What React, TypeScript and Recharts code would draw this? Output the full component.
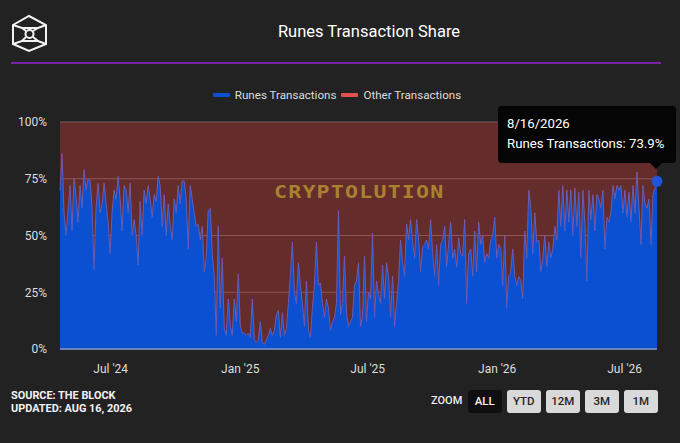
import { AreaChart, Area, XAxis, YAxis, CartesianGrid, Legend, Tooltip } from "recharts";

// share of runes transactions in % left to right
const runes2024a = [70, 86, 60, 50, 60, 72, 52, 75, 67, 56, 72, 62, 79, 70, 75, 74, 62, 35, 62, 73, 60, 64, 73, 64, 56, 42, 60, 70, 66, 76, 66, 52, 72, 70, 60, 73, 50, 57, 50, 37, 65, 50, 70, 64, 72, 66, 58, 68, 65];
const runes2024b = [76, 72, 54, 68, 50, 64, 54, 48, 66, 60, 72, 64, 74, 74, 66, 44, 72, 66, 60, 54, 55, 48, 54, 34, 40, 61, 62, 42, 32, 6, 54, 18, 40, 9, 6, 22, 10, 6, 22, 12, 33, 10, 7, 7, 6, 7, 5, 22, 4, 3];
const runes2025a = [4, 12, 3, 2, 4, 6, 9, 6, 8, 15, 17, 5, 16, 6, 9, 20, 32, 47, 25, 20, 38, 28, 20, 10, 30, 8, 5, 18, 28, 47, 28, 29, 20, 14, 22, 18, 8, 12, 14, 20, 61, 15, 20, 41, 16, 10, 12, 14, 28, 30];
const runes2025b = [38, 10, 14, 41, 12, 25, 22, 51, 14, 30, 24, 20, 37, 22, 38, 32, 14, 32, 10, 20, 30, 48, 38, 32, 55, 48, 57, 47, 40, 57, 48, 34, 45, 46, 48, 44, 57, 42, 32, 46, 28, 46, 48, 54, 36, 46, 56, 40, 44, 36];
const runes2026a = [49, 42, 41, 57, 20, 42, 44, 32, 52, 34, 56, 46, 50, 38, 42, 40, 48, 50, 58, 40, 46, 44, 28, 50, 18, 32, 34, 44, 32, 28, 32, 30, 22, 52, 40, 70, 62, 42, 60, 47, 48, 34, 40, 50, 36, 47, 40, 44, 54, 48];
const runes2026b = [70, 54, 72, 52, 70, 56, 70, 50, 71, 54, 69, 40, 70, 55, 30, 70, 57, 68, 52, 68, 66, 62, 70, 44, 58, 56, 60, 72, 66, 72, 70, 72, 60, 70, 58, 69, 56, 72, 60, 78, 62, 46, 72, 64, 62, 66, 46, 68, 71, 73.9];
const runesValues = [...runes2024a, ...runes2024b, ...runes2025a, ...runes2025b, ...runes2026a, ...runes2026b];

const TOTAL_DAYS = 848; // Apr 20 2024 to Aug 16 2026
const xTickDays = [72, 256, 437, 621, 802];
const xTickLabels = ["Jul '24", "Jan '25", "Jul '25", "Jan '26", "Jul '26"];
const yTicks = [0, 25, 50, 75, 100];
const zoomButtons = ["ALL", "YTD", "12M", "3M", "1M"];
const tooltipDate = "8/16/2026";

const BLUE = "#0b50d0";
const RED = "#ef4444";
const FONT = "Roboto, sans-serif";

const chartData = runesValues.map((v, i) => ({
  day: (i * TOTAL_DAYS) / (runesValues.length - 1),
  runes: v,
  other: 100 - v,
}));

function ChartLegend({ payload }: any) {
  const colors = [BLUE, "#e2504c"];
  return (
    <div style={{ display: "flex", justifyContent: "center", fontFamily: FONT, fontSize: 11.6, color: "#ddd" }}>
      {(payload || []).map((p: any, i: number) => (
        <span key={p.value} style={{ display: "flex", alignItems: "center", marginLeft: i ? 5 : 0 }}>
          <span style={{ width: 17, height: 4, borderRadius: 1, background: colors[i], marginRight: 5 }} />
          {p.value}
        </span>
      ))}
    </div>
  );
}

function ChartTooltip({ payload }: any) {
  const item = payload && payload[0];
  if (!item) return null;
  return (
    <div style={{ position: "relative", width: 178, height: 57, boxSizing: "border-box", padding: "8px 9px", background: "#050505", borderRadius: 4, color: "#fff", fontFamily: FONT, fontSize: 13.2, lineHeight: "20px", whiteSpace: "nowrap" }}>
      <div>{tooltipDate}</div>
      <div>{item.name}: {item.value}%</div>
      <div style={{ position: "absolute", left: 152, top: 57, width: 0, height: 0, borderLeft: "6px solid transparent", borderRight: "6px solid transparent", borderTop: "6px solid #050505" }} />
    </div>
  );
}

function Logo() {
  return (
    <svg width={60} height={60} style={{ position: "absolute", left: 0, top: 3 }} fill="none" stroke="#f2f2f2" strokeWidth={2}>
      <polygon points="29,13 46,22 46,41 29,48 13,41 13,22" />
      <polyline points="13,22 22,25 38,25 46,22" />
      <polyline points="13,41 22,38 38,38 46,41" />
      <line x1={22} y1={25} x2={26} y2={28} />
      <line x1={38} y1={25} x2={33} y2={28} />
      <line x1={22} y1={38} x2={26} y2={34} />
      <line x1={38} y1={38} x2={33} y2={34} />
      <circle cx={29.5} cy={31} r={4} />
    </svg>
  );
}

export default function App() {
  return (
    <div style={{ position: "absolute", left: 0, top: 0, width: 680, height: 443, background: "#222222", overflow: "hidden" }}>
      <Logo />
      <div style={{ position: "absolute", left: 200, width: 338, top: 22, textAlign: "center", fontFamily: FONT, fontSize: 16.5, color: "#fff" }}>
        Runes Transaction Share
      </div>
      <div style={{ position: "absolute", left: 11, top: 62, width: 650, height: 1.5, background: "#7a22a8" }} />

      <AreaChart width={680} height={443} data={chartData} margin={{ top: 108, right: 23, bottom: 64, left: 8 }}>
        <CartesianGrid vertical={false} stroke="#5e5e5e" />
        <XAxis
          dataKey="day"
          type="number"
          domain={[0, TOTAL_DAYS]}
          ticks={xTickDays}
          tickFormatter={(d: number) => xTickLabels[xTickDays.indexOf(d)]}
          tick={{ fill: "#ddd", fontSize: 12, fontFamily: FONT }}
          tickLine={false}
          axisLine={{ stroke: "#8296c8", strokeWidth: 1.5 }}
          tickMargin={9}
          height={30}
        />
        <YAxis
          domain={[0, 100]}
          ticks={yTicks}
          tickFormatter={(v: number) => `${v}%`}
          tick={{ fill: "#ddd", fontSize: 12, fontFamily: FONT }}
          tickLine={false}
          axisLine={false}
          tickMargin={7}
          width={52}
        />
        <Legend verticalAlign="top" height={0} itemSorter={null} content={<ChartLegend />} wrapperStyle={{ top: 88, left: -3, width: 680 }} />
        <Tooltip
          content={<ChartTooltip />}
          defaultIndex={runesValues.length - 1}
          active
          cursor={false}
          position={{ x: 498, y: 106 }}
          isAnimationActive={false}
          wrapperStyle={{ outline: "none" }}
        />
        <Area
          type="linear"
          dataKey="runes"
          name="Runes Transactions"
          stackId="share"
          stroke="#4f62cb"
          strokeWidth={1}
          fill={BLUE}
          fillOpacity={1}
          activeDot={{ r: 5.5, fill: "#1f55d6", stroke: "none" }}
          isAnimationActive={false}
        />
        <Area
          type="linear"
          dataKey="other"
          name="Other Transactions"
          stackId="share"
          stroke="none"
          fill={RED}
          fillOpacity={0.33}
          activeDot={false}
          isAnimationActive={false}
        />
      </AreaChart>

      <div style={{ position: "absolute", left: 274, top: 181, fontFamily: "'DejaVu Sans Mono', monospace", fontWeight: 700, fontSize: 18, letterSpacing: 1, color: "#a8822f", transform: "scaleX(1.2)", transformOrigin: "left", pointerEvents: "none" }}>
        CRYPTOLUTION
      </div>

      <div style={{ position: "absolute", left: 11, top: 389, fontFamily: FONT, fontWeight: 700, fontSize: 10.9, lineHeight: "13px", color: "#f2f2f2" }}>
        SOURCE: THE BLOCK
        <br />
        UPDATED: AUG 16, 2026
      </div>

      <div style={{ position: "absolute", left: 431, top: 394, fontFamily: FONT, fontWeight: 500, fontSize: 11, color: "#eee" }}>ZOOM</div>
      <div style={{ position: "absolute", left: 468, top: 390, display: "flex", gap: 5.5 }}>
        {zoomButtons.map((b, i) => (
          <div
            key={b}
            style={{
              width: 33.5,
              height: 23,
              lineHeight: "23px",
              textAlign: "center",
              borderRadius: 3,
              background: i === 0 ? "#0f0f0f" : "#d9d9d9",
              color: i === 0 ? "#f2f2f2" : "#262626",
              fontFamily: FONT,
              fontWeight: 500,
              fontSize: 11.5,
            }}
          >
            {b}
          </div>
        ))}
      </div>
    </div>
  );
}
